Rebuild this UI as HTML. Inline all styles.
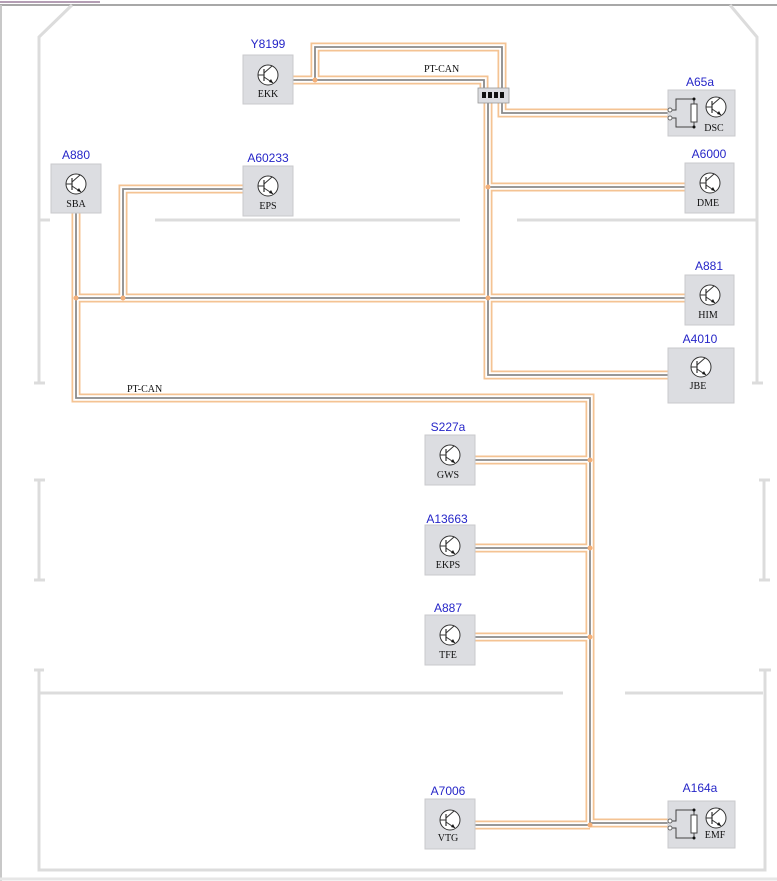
<!DOCTYPE html>
<html><head><meta charset="utf-8"><style>
html,body{margin:0;padding:0;background:#fff;width:777px;height:881px;overflow:hidden}
svg{display:block}
.f{stroke:#dcdcdc;stroke-width:3;fill:none}
.bx{fill:#dcdde1;stroke:#c9c9cc;stroke-width:1}
.lb{font-family:"Liberation Sans",sans-serif;font-size:12px;fill:#2626c8;text-anchor:middle}
.nm{font-family:"Liberation Serif",serif;font-size:10px;fill:#111;text-anchor:middle}
.tc{font-family:"Liberation Serif",serif;font-size:10px;fill:#111}
</style></head><body>
<svg width="777" height="881" viewBox="0 0 777 881" xmlns="http://www.w3.org/2000/svg">
<defs>
<g id="tr">
<circle cx="0" cy="0" r="10" fill="#fff" stroke="#333" stroke-width="1"/>
<line x1="-4" y1="-6" x2="-4" y2="6" stroke="#333" stroke-width="1.2"/>
<line x1="-10" y1="0" x2="-4" y2="0" stroke="#333" stroke-width="1"/>
<line x1="-4" y1="-2" x2="4" y2="-9" stroke="#333" stroke-width="1"/>
<line x1="-4" y1="2" x2="5" y2="8" stroke="#333" stroke-width="1"/>
<path d="M5 8 L1 7 L3 4 Z" fill="#111"/>
</g>
</defs>
<!-- frame -->
<line x1="0" y1="2" x2="100" y2="2" stroke="#6a3d6a" stroke-width="1"/>
<line x1="0" y1="5" x2="777" y2="5" stroke="#a8a8a8" stroke-width="2"/>
<line x1="1" y1="5" x2="1" y2="881" stroke="#c8c8c8" stroke-width="2"/>
<line x1="0" y1="879" x2="777" y2="879" stroke="#e6e6e6" stroke-width="3"/>
<path class="f" d="M72 5 L39 37 L39 383 M34 383 L45 383"/>
<path class="f" d="M730 5 L757 37 L757 383 M752 383 L763 383"/>
<path class="f" d="M40 220 L50 220 M155 220 L460 220 M517 220 L757 220"/>
<path class="f" d="M39 480 L39 580 M34 480 L45 480 M34 580 L45 580"/>
<path class="f" d="M764 480 L764 580 M759 480 L770 480 M759 580 L770 580"/>
<path class="f" d="M39 670 L39 870 L765 870 L765 670 M759 670 L771 670 M40 693 L563 693 M625 693 L763 693"/>
<path class="f" d="M34 670 L44 670"/>

<g fill="none" stroke="#f4c393" stroke-width="9">
<path d="M293 80 L484 80 L484 92 M315 80 L315 47 L502 47 L502 92 M502 102 L502 113 L668 113 M488 102 L488 375 L668 375 M488 187 L685 187 M76 298 L685 298 M243 189 L123 189 L123 298 M76 213 L76 398 L590 398 L590 823 L668 823 M475 460 L590 460 M475 548 L590 548 M475 637 L590 637 M475 825 L590 825"/>
</g>
<g fill="none" stroke="#fff" stroke-width="5.5">
<path d="M293 80 L484 80 L484 92 M315 80 L315 47 L502 47 L502 92 M502 102 L502 113 L668 113 M488 102 L488 375 L668 375 M488 187 L685 187 M76 298 L685 298 M243 189 L123 189 L123 298 M76 213 L76 398 L590 398 L590 823 L668 823 M475 460 L590 460 M475 548 L590 548 M475 637 L590 637 M475 825 L590 825"/>
</g>
<g fill="none" stroke="#8a8a8a" stroke-width="1.8">
<path d="M293 80 L484 80 L484 92 M315 80 L315 47 L502 47 L502 92 M502 102 L502 113 L668 113 M488 102 L488 375 L668 375 M488 187 L685 187 M76 298 L685 298 M243 189 L123 189 L123 298 M76 213 L76 398 L590 398 L590 823 L668 823 M475 460 L590 460 M475 548 L590 548 M475 637 L590 637 M475 825 L590 825"/>
</g>
<g fill="#f3b07a">
<circle cx="315" cy="80" r="2.5"/><circle cx="488" cy="187" r="2.5"/><circle cx="488" cy="298" r="2.5"/>
<circle cx="76" cy="298" r="2.5"/><circle cx="123" cy="298" r="2.5"/><circle cx="590" cy="460" r="2.5"/>
<circle cx="590" cy="548" r="2.5"/><circle cx="590" cy="637" r="2.5"/><circle cx="590" cy="825" r="2.5"/>
</g>
<!-- connector -->
<rect x="478" y="88" width="31" height="15" fill="#dcdde1" stroke="#999" stroke-width="0.8"/>
<g fill="#111"><rect x="482" y="92" width="4" height="6"/><rect x="488" y="92" width="4" height="6"/><rect x="494" y="92" width="4" height="6"/><rect x="500" y="92" width="4" height="6"/></g>
<text class="tc" x="424" y="72">PT-CAN</text>
<text class="tc" x="127" y="392">PT-CAN</text>

<!-- components -->
<g>
<text class="lb" x="268" y="48">Y8199</text><rect class="bx" x="243" y="55" width="50" height="49"/><use href="#tr" x="268" y="75"/><text class="nm" x="268" y="97">EKK</text>
<text class="lb" x="76" y="159">A880</text><rect class="bx" x="51" y="164" width="50" height="49"/><use href="#tr" x="76" y="184"/><text class="nm" x="76" y="207">SBA</text>
<text class="lb" x="268" y="162">A60233</text><rect class="bx" x="243" y="166" width="50" height="50"/><use href="#tr" x="268" y="186"/><text class="nm" x="268" y="209">EPS</text>
<text class="lb" x="709" y="158">A6000</text><rect class="bx" x="685" y="163" width="49" height="50"/><use href="#tr" x="710" y="183"/><text class="nm" x="708" y="206">DME</text>
<text class="lb" x="709" y="270">A881</text><rect class="bx" x="685" y="275" width="49" height="50"/><use href="#tr" x="710" y="295"/><text class="nm" x="708" y="318">HIM</text>
<text class="lb" x="700" y="343">A4010</text><rect class="bx" x="668" y="348" width="66" height="55"/><use href="#tr" x="701" y="367"/><text class="nm" x="698" y="389">JBE</text>
<text class="lb" x="448" y="431">S227a</text><rect class="bx" x="425" y="435" width="50" height="50"/><use href="#tr" x="450" y="455"/><text class="nm" x="448" y="478">GWS</text>
<text class="lb" x="447" y="523">A13663</text><rect class="bx" x="425" y="525" width="50" height="50"/><use href="#tr" x="450" y="546"/><text class="nm" x="448" y="568">EKPS</text>
<text class="lb" x="448" y="612">A887</text><rect class="bx" x="425" y="615" width="50" height="50"/><use href="#tr" x="450" y="635"/><text class="nm" x="448" y="658">TFE</text>
<text class="lb" x="448" y="795">A7006</text><rect class="bx" x="425" y="799" width="50" height="50"/><use href="#tr" x="450" y="820"/><text class="nm" x="448" y="841">VTG</text>
</g>
<!-- DSC -->
<text class="lb" x="700" y="86">A65a</text><rect class="bx" x="668" y="90" width="67" height="46"/>
<g stroke="#444" stroke-width="1" fill="none"><path d="M670 110 L676 110 L676 99 L694 99 M670 118 L676 118 L676 127 L694 127 M694 99 L694 127"/></g>
<rect x="691" y="104" width="6" height="18" fill="#fff" stroke="#444" stroke-width="1"/>
<circle cx="694" cy="99" r="1.5" fill="#111"/><circle cx="694" cy="127" r="1.5" fill="#111"/>
<circle cx="670" cy="110" r="2" fill="#fff" stroke="#666"/><circle cx="670" cy="118" r="2" fill="#fff" stroke="#666"/>
<use href="#tr" x="716" y="107"/><text class="nm" x="714" y="131">DSC</text>
<!-- EMF -->
<text class="lb" x="700" y="792">A164a</text><rect class="bx" x="668" y="801" width="67" height="47"/>
<g stroke="#444" stroke-width="1" fill="none"><path d="M670 821 L676 821 L676 810 L694 810 M670 828 L676 828 L676 838 L694 838 M694 810 L694 838"/></g>
<rect x="691" y="815" width="6" height="18" fill="#fff" stroke="#444" stroke-width="1"/>
<circle cx="694" cy="810" r="1.5" fill="#111"/><circle cx="694" cy="838" r="1.5" fill="#111"/>
<circle cx="670" cy="821" r="2" fill="#fff" stroke="#666"/><circle cx="670" cy="828" r="2" fill="#fff" stroke="#666"/>
<use href="#tr" x="716" y="818"/><text class="nm" x="715" y="838">EMF</text>
</svg>
</body></html>
